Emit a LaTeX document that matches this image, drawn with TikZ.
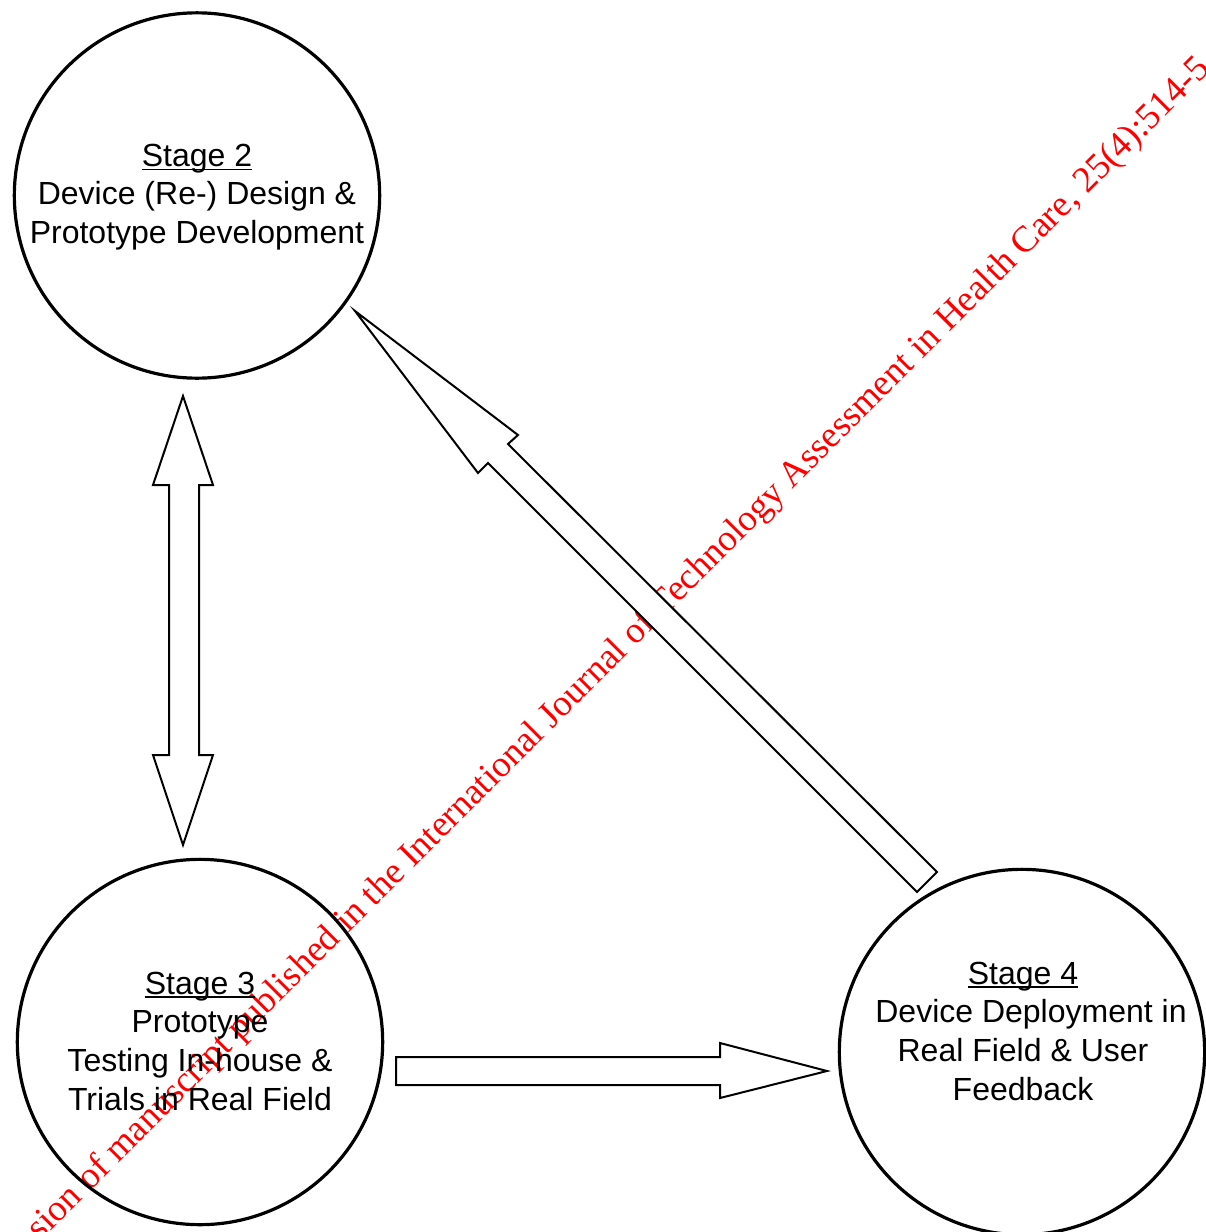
\documentclass[tikz,border=0pt]{standalone}
\usepackage{fontspec}
\setmainfont{Liberation Sans}
\newfontfamily\wmfont{Liberation Serif}
\newcommand\stagehead[1]{\setbox0\hbox{#1}\rlap{\rule[-3pt]{\wd0}{1.2pt}}\box0}
\begin{document}
\begin{tikzpicture}[x=0.75pt,y=-0.75pt,
  stagecircle/.style={circle,draw,line width=2.4pt,minimum size=274pt,inner sep=0pt},
  stagetext/.style={align=center,inner sep=0pt,font=\fontsize{24}{29}\selectfont},
  blockarrow/.style={draw,line width=1.5pt,fill=white,line join=miter},
  watermark/.style={text=red,inner sep=0pt,font=\wmfont\fontsize{27.6}{30}\selectfont,rotate=45,anchor=base west}]
\useasboundingbox (0,0) rectangle (1206,1232);
\begin{scope}
\clip (0,0) rectangle (1206,1232);
% watermark (lies beneath the white-filled arrows)
\node[watermark] (wm) at (40,1242) {sion of manuscript published in the International Journal of Technology Assessment in Health Care, 25(4):514-5};
% double arrow between stage 2 and stage 3
\draw[blockarrow] (183,396) -- (213,485) -- (199,485) -- (199,755) -- (213,755) -- (183,845)
  -- (153,755) -- (169,755) -- (169,485) -- (153,485) -- cycle;
% arrow stage 3 -> stage 4
\draw[blockarrow] (396,1057) -- (720,1057) -- (720,1043) -- (827,1071) -- (720,1098)
  -- (720,1085) -- (396,1085) -- cycle;
% arrow stage 4 -> stage 2
\draw[blockarrow] (355,311) -- (518,435) -- (508,444) -- (937,872) -- (917,892)
  -- (488,463) -- (478,473) -- cycle;
% stages
\node[stagecircle] (s2) at (197,195.5) {};
\node[stagetext] (s2text) at (197,197) {\stagehead{Stage 2}\\Device (Re-) Design \&\\Prototype Development};
\node[stagecircle] (s3) at (200,1042) {};
\node[stagetext] (s3text) at (200,1041) {\stagehead{Stage 3}\\Prototype\\Testing In-house \&\\Trials in Real Field};
\node[stagecircle] (s4) at (1022,1052) {};
\node[stagetext] (s4text) at (1023,1031) {\stagehead{Stage 4}\\\hspace*{12pt}Device Deployment in\\Real Field \& User\\Feedback};
\end{scope}
\end{tikzpicture}
\end{document}
